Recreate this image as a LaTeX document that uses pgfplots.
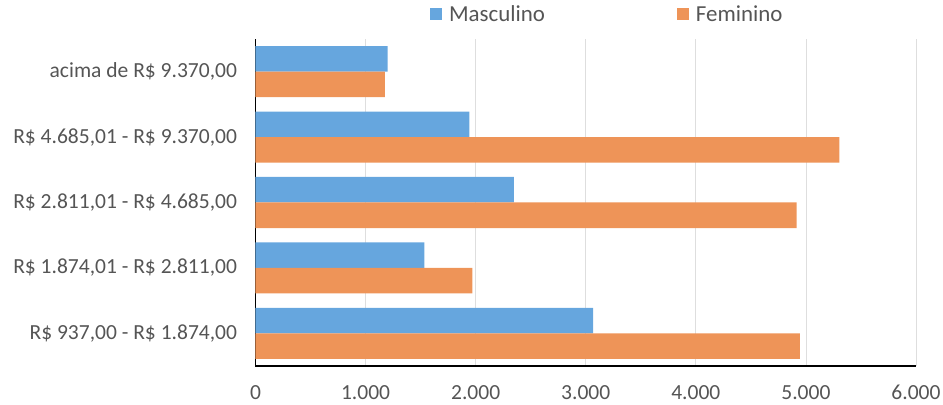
\documentclass[border=0pt]{standalone}
\usepackage{pgfplots}
\pgfplotsset{compat=1.18}
\usepackage{fontspec}
\setmainfont{Carlito}
\definecolor{masc}{RGB}{102,166,222}
\definecolor{fem}{RGB}{238,148,88}
\definecolor{txt}{RGB}{85,85,85}
\definecolor{gridc}{RGB}{222,222,222}
\begin{document}
\begin{tikzpicture}
\begin{axis}[
  scale only axis, width=660.5bp, height=327bp,
  xmin=0, xmax=6000, ymin=-0.5, ymax=4.5,
  axis x line*=bottom, axis y line*=left,
  axis line style={black, line width=1.6bp},
  xtick={0,1000,2000,3000,4000,5000,6000},
  xticklabels={0,1.000,2.000,3.000,4.000,5.000,6.000},
  ytick={0,1,2,3,4},
  yticklabels={{R\$ 937,00 - R\$ 1.874,00},{R\$ 1.874,01 - R\$ 2.811,00},{R\$ 2.811,01 - R\$ 4.685,00},{R\$ 4.685,01 - R\$ 9.370,00},{acima de R\$ 9.370,00}},
  major tick length=0pt,
  xmajorgrids,
  major grid style={gridc, line width=0.8bp},
  tick label style={font=\fontsize{21.6}{25}\selectfont, text=txt},
  xticklabel style={inner sep=0pt, yshift=-19bp},
  yticklabel style={xshift=-15bp},
  xbar, bar width=25.5bp,
  legend columns=2,
  legend image code/.code={\fill[#1] (0bp,-6bp) rectangle (12bp,6bp);},
  legend style={draw=none, fill=none, at={(0.264,1.0765)}, anchor=west, inner sep=0pt,
    font=\fontsize{23}{27}\selectfont, text=txt,
    /tikz/every odd column/.append style={column sep=5bp},
    /tikz/every even column/.append style={column sep=130bp}},
]
\addplot[fill=masc, draw=none, bar shift=12.75bp] coordinates {(3068,0) (1533,1) (2348,2) (1942,3) (1200,4)};
\addplot[fill=fem, draw=none, bar shift=-12.75bp] coordinates {(4945,0) (1969,1) (4915,2) (5303,3) (1176,4)};
\legend{Masculino, Feminino}
\end{axis}
\pgfresetboundingbox
\path[use as bounding box] (-255.5bp,-39bp) rectangle (687.5bp,366bp);
\end{tikzpicture}
\end{document}
